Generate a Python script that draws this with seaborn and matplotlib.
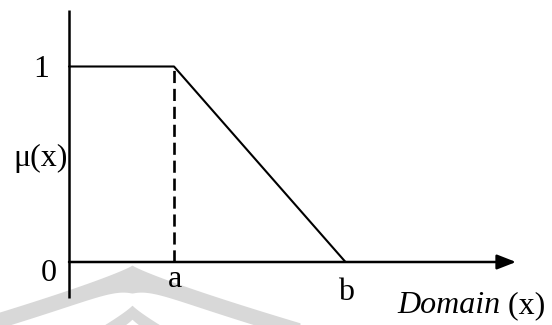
import numpy as np
import pandas as pd
import matplotlib
matplotlib.use("Agg")
import matplotlib.pyplot as plt
import seaborn as sns

# ---- data ----
x_points = [0.0, 3.0, 7.9]          # origin, a, b
mu_points = [1.0, 1.0, 0.0]         # membership values
tick_x_labels = ["a", "b"]
tick_x_values = [3.0, 7.9]
tick_y_labels = ["0", "1"]
tick_y_values = [0.0, 1.0]
y_label = "\u03bc(x)"
x_label_italic = "Domain"
x_label_rest = " (x)"

sns.set_theme(style="white")
plt.rcParams["font.family"] = ["Liberation Serif", "DejaVu Serif"]

W, H = 552, 325
fig = plt.figure(figsize=(W / 100, H / 100), dpi=100)
ax = fig.add_axes([0, 0, 1, 1])
ax.set_axis_off()

# pixel mapping: x_px = 69 + 35*x ; y_px = 262 - 195.5*y
X0, SX = 69.0, 35.0
Y0, SY = 262.0, 195.5
ax.set_xlim(-X0 / SX, (W - X0) / SX)
ax.set_ylim(-(H - Y0) / SY, Y0 / SY)

def px(xp, yp):
    return (xp - X0) / SX, (Y0 - yp) / SY

# ---- watermark (faint decoration) ----
xs_px = np.linspace(-5, 300, 400)
dx = np.abs(xs_px - 132)
top1 = 265 + 0.67 * dx ** 0.87
bot1 = top1 + 16 + 12 * np.exp(-dx / 15)
top2 = 305 + 1.1 * dx ** 0.87
bot2 = top2 + 14
wx = (xs_px - X0) / SX
wcol = "#d8d8d8"
ax.fill_between(wx, (Y0 - top1) / SY, (Y0 - bot1) / SY, color=wcol, lw=0, zorder=0)
ax.fill_between(wx, (Y0 - top2) / SY, (Y0 - bot2) / SY, color=wcol, lw=0, zorder=0)

# ---- membership function ----
df = pd.DataFrame({"x": x_points, "mu": mu_points})
sns.lineplot(data=df, x="x", y="mu", ax=ax, color="black", lw=1.5,
             sort=False, estimator=None, zorder=3)

# dashed drop line at a
ax.plot([x_points[1], x_points[1]], [0, mu_points[1]], color="black",
        lw=1.9, dashes=(4.6, 2.2), zorder=3)

# axes lines
yb = px(0, 298)[1]
yt = px(0, 10)[1]
ax.plot([0, 0], [yb, yt], color="black", lw=1.8, solid_capstyle="butt", zorder=4)
x_end = px(516, 0)[0]
ax.annotate("", xy=(x_end, 0), xytext=(0, 0),
            arrowprops=dict(arrowstyle="-|>,head_length=1.15,head_width=0.45",
                            mutation_scale=10, lw=1.8, color="black",
                            shrinkA=0, shrinkB=0), zorder=4)

fs = 23
# y tick labels (baseline pixel rows)
for v, lab, xp, base in zip(tick_y_values, tick_y_labels, [49, 41.5], [281, 77]):
    ax.text(px(xp, 0)[0], px(0, base)[1], lab,
            ha="center", va="baseline", fontsize=fs, color="black")
# x tick labels
for v, lab, base in zip(tick_x_values, tick_x_labels, [287, 300]):
    ax.text(v + 0.02, px(0, base)[1], lab, ha="center", va="baseline",
            fontsize=fs, color="black")

# y label
ax.text(px(68, 0)[0], px(0, 166)[1], y_label, ha="right", va="baseline",
        fontsize=fs, color="black")

# x label: italic Domain + upright (x)
tx = ax.text(px(397, 0)[0], px(0, 313)[1], x_label_italic, ha="left",
             va="baseline", fontsize=fs, style="italic", color="black")
fig.canvas.draw()
bb = tx.get_window_extent()
inv = ax.transData.inverted()
x_after = inv.transform((bb.x1, bb.y0))[0]
ax.text(x_after, px(0, 313)[1], x_label_rest, ha="left", va="baseline",
        fontsize=fs, color="black")

fig.savefig("out.png", dpi=100)
